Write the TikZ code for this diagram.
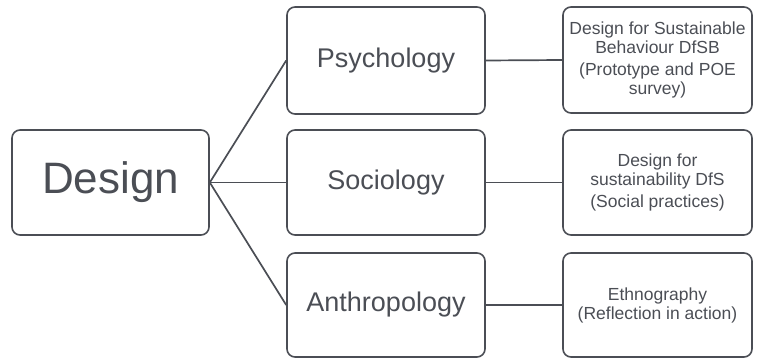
\documentclass[tikz,border=0pt]{standalone}
\usepackage{fontspec}
\setmainfont{Liberation Sans}
\begin{document}
\definecolor{ink}{HTML}{4B4E55}
\begin{tikzpicture}[x=1pt,y=-1pt,
  box/.style={draw=ink, line width=1.6pt, rounded corners=8pt, text=ink, inner sep=0pt},
  link/.style={draw=ink, line width=1.7pt},
  note/.style={box, minimum width=189pt, align=center, font=\fontsize{17.5}{19}\selectfont}]
\useasboundingbox (0,0) rectangle (760,358);
% root
\node[box, minimum width=197pt, minimum height=105pt, font=\fontsize{44}{50}\selectfont] (design) at (110.5,182.5) {Design};
% disciplines
\node[box, minimum width=198pt, minimum height=107pt, font=\fontsize{27}{32}\selectfont] (psy) at (386,60.5) {Psychology};
\node[box, minimum width=198pt, minimum height=105pt, font=\fontsize{27}{32}\selectfont] (soc) at (386,182.5) {Sociology};
\node[box, minimum width=198pt, minimum height=104pt, font=\fontsize{27}{32}\selectfont] (ant) at (386,305) {Anthropology};
% approaches
\node[note, minimum height=106pt] (dfsb) at (657.5,60) {Design for Sustainable\\Behaviour DfSB\\[3pt](Prototype and POE\\survey)};
\node[note, minimum height=105pt] (dfs) at (657.5,182.5) {Design for\\sustainability DfS\\[3pt](Social practices)};
\node[note, minimum height=104pt] (eth) at (657.5,305) {Ethnography\\(Reflection in action)};
% connectors
\draw[link] (design.east) -- (psy.west);
\draw[link] (design.east) -- (soc.west);
\draw[link] (design.east) -- (ant.west);
\draw[link] (psy.east) -- (dfsb.west);
\draw[link] (soc.east) -- (dfs.west);
\draw[link] (ant.east) -- (eth.west);
\end{tikzpicture}
\end{document}
